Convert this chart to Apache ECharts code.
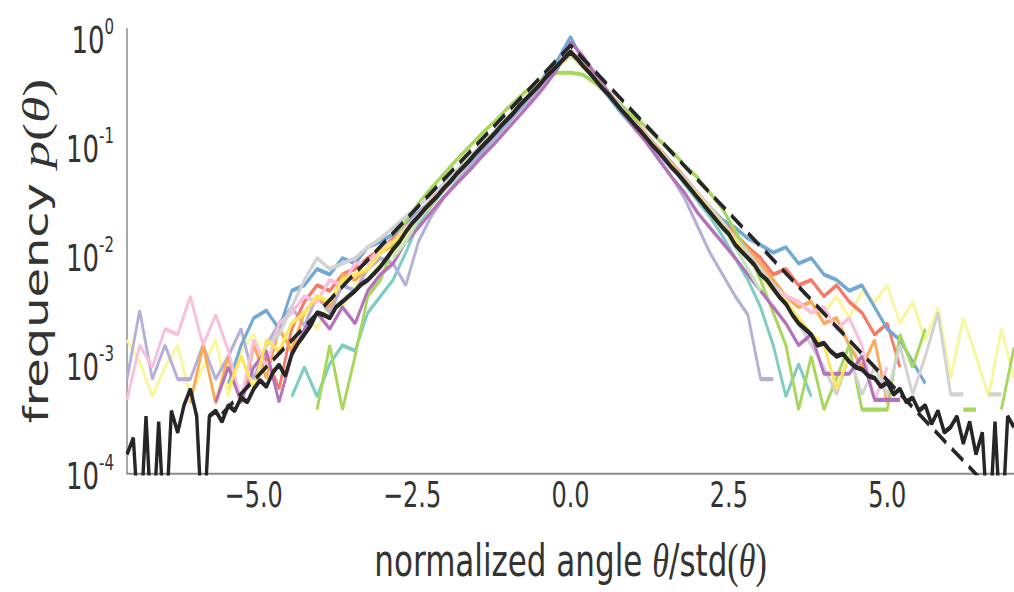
<!DOCTYPE html>
<html><head><meta charset="utf-8">
<script src="https://cdn.jsdelivr.net/npm/echarts@6.0.0/dist/echarts.min.js"></script>
<style>
html,body{margin:0;padding:0;background:#fff;}
#wrap{width:1014px;height:592px;overflow:hidden;position:relative;}
#chart{position:absolute;left:0;top:0;width:1014px;height:408px;transform:scaleY(1.451);transform-origin:0 0;}
</style></head><body><div id="wrap"><div id="chart"></div></div>
<script>
const N = null;
// bin centres of the pooled (black) histogram, step 0.1
const X_FINE = [-7.0,-6.9,-6.8,-6.7,-6.6,-6.5,-6.4,-6.3,-6.2,-6.1,
-6.0,-5.9,-5.8,-5.7,-5.6,-5.5,-5.4,-5.3,-5.2,-5.1,
-5.0,-4.9,-4.8,-4.7,-4.6,-4.5,-4.4,-4.3,-4.2,-4.1,
-4.0,-3.9,-3.8,-3.7,-3.6,-3.5,-3.4,-3.3,-3.2,-3.1,
-3.0,-2.9,-2.8,-2.7,-2.6,-2.5,-2.4,-2.3,-2.2,-2.1,
-2.0,-1.9,-1.8,-1.7,-1.6,-1.5,-1.4,-1.3,-1.2,-1.1,
-1.0,-0.9,-0.8,-0.7,-0.6,-0.5,-0.4,-0.3,-0.2,-0.1,
0.0,0.1,0.2,0.3,0.4,0.5,0.6,0.7,0.8,0.9,
1.0,1.1,1.2,1.3,1.4,1.5,1.6,1.7,1.8,1.9,
2.0,2.1,2.2,2.3,2.4,2.5,2.6,2.7,2.8,2.9,
3.0,3.1,3.2,3.3,3.4,3.5,3.6,3.7,3.8,3.9,
4.0,4.1,4.2,4.3,4.4,4.5,4.6,4.7,4.8,4.9,
5.0,5.1,5.2,5.3,5.4,5.5,5.6,5.7,5.8,5.9,
6.0,6.1,6.2,6.3,6.4,6.5,6.6,6.7,6.8,6.9,
7.0];
// bin centres of the individual histograms, step 0.2
const X_COARSE = [-7.0,-6.8,-6.6,-6.4,-6.2,-6.0,-5.8,-5.6,-5.4,-5.2,
-5.0,-4.8,-4.6,-4.4,-4.2,-4.0,-3.8,-3.6,-3.4,-3.2,
-3.0,-2.8,-2.6,-2.4,-2.2,-2.0,-1.8,-1.6,-1.4,-1.2,
-1.0,-0.8,-0.6,-0.4,-0.2,0.0,0.2,0.4,0.6,0.8,
1.0,1.2,1.4,1.6,1.8,2.0,2.2,2.4,2.6,2.8,
3.0,3.2,3.4,3.6,3.8,4.0,4.2,4.4,4.6,4.8,
5.0,5.2,5.4,5.6,5.8,6.0,6.2,6.4,6.6,6.8,
7.0];

const POOLED = [
0.126e-3,0.178e-3,0.2e-4,0.282e-3,0.2e-4,0.251e-3,0.2e-4,0.316e-3,0.2e-3,0.355e-3,
0.501e-3,0.282e-3,0.2e-4,0.282e-3,0.316e-3,0.251e-3,0.355e-3,0.316e-3,0.417e-3,0.380e-3,
0.501e-3,0.603e-3,0.525e-3,0.708e-3,0.832e-3,0.661e-3,0.105e-2,0.132e-2,0.158e-2,0.191e-2,
0.251e-2,0.240e-2,0.224e-2,0.282e-2,0.316e-2,0.355e-2,0.398e-2,0.457e-2,0.501e-2,0.575e-2,
0.661e-2,0.794e-2,0.955e-2,0.112e-1,0.138e-1,0.166e-1,0.191e-1,0.224e-1,0.257e-1,0.295e-1,
0.347e-1,0.398e-1,0.468e-1,0.537e-1,0.617e-1,0.724e-1,0.832e-1,0.955e-1,0.110,0.129,
0.148,0.170,0.200,0.229,0.263,0.302,0.355,0.407,0.468,0.537,
0.617,0.537,0.457,0.398,0.339,0.288,0.251,0.214,0.182,0.158,
0.135,0.117,0.100,0.0851,0.0741,0.0631,0.0537,0.0468,0.0398,0.0339,
0.0288,0.0245,0.0209,0.0178,0.0151,0.0132,0.0105,0.00912,0.00794,0.00692,
0.00562,0.00501,0.00417,0.00347,0.00302,0.0024,0.002,0.00178,0.00158,0.00126,
0.00132,0.00112,0.001,0.00105,0.000891,0.000794,0.000759,0.000661,0.000631,0.000525,
0.000575,0.000447,0.000501,0.00038,0.000417,0.000316,0.000355,0.00024,0.000316,0.0002,
0.000224,0.000282,0.000158,0.000251,0.000126,0.0002,0.00002,0.000251,0.00002,0.000282,
0.000224];

const LAPLACE_X = [-5.5, 0, 7];
const LAPLACE = [0.296e-3, 0.707, 0.355e-4];

const TEAL = [
N,N,N,N,N, N,N,N,N,N,
N,N,N,0.427e-3,0.794e-3,
0.427e-3,0.851e-3,0.126e-2,0.112e-2,0.251e-2,
0.355e-2,0.501e-2,0.891e-2,0.166e-1,0.240e-1,
0.331e-1,0.447e-1,0.603e-1,0.794e-1,0.107,
0.145,0.195,0.251,0.347,0.457,
0.603,0.468,0.339,0.251,0.186,
0.135,0.1,0.724e-1,0.537e-1,0.380e-1,
0.269e-1,0.191e-1,0.126e-1,0.794e-2,0.501e-2,
0.282e-2,0.126e-2,0.427e-3,0.851e-3,0.427e-3,
N,N,N,N,N, N,N,N,N,N, N,N,N,N,N, N];
const PALEYELLOW = [
0.141e-2,0.891e-3,0.427e-3,0.794e-3,0.126e-2,
0.427e-3,0.794e-3,0.141e-2,0.427e-3,0.112e-2,
0.158e-2,0.794e-3,0.178e-2,0.126e-2,0.251e-2,
0.178e-2,0.316e-2,0.282e-2,0.447e-2,0.501e-2,
0.708e-2,0.891e-2,0.126e-1,0.182e-1,0.251e-1,
0.339e-1,0.468e-1,0.603e-1,0.832e-1,0.107,
0.145,0.2,0.257,0.355,0.457,
0.562,0.447,0.331,0.251,0.182,
0.138,0.102,0.741e-1,0.550e-1,0.417e-1,
0.302e-1,0.219e-1,0.158e-1,0.112e-1,0.832e-2,
0.631e-2,0.501e-2,0.355e-2,0.316e-2,0.251e-2,
0.251e-2,0.355e-2,0.224e-2,0.398e-2,0.316e-2,
0.447e-2,0.2e-2,0.316e-2,0.141e-2,0.282e-2,
0.631e-3,0.224e-2,0.1e-2,0.427e-3,0.178e-2,
0.631e-3];
const LAVENDER = [
0.617e-3,0.263e-2,0.617e-3,0.126e-2,0.617e-3,
0.617e-3,0.126e-2,0.617e-3,0.1e-2,0.178e-2,
0.617e-3,0.126e-2,0.2e-2,0.282e-2,0.191e-2,
0.355e-2,0.251e-2,0.447e-2,0.398e-2,0.631e-2,
0.794e-2,0.708e-2,0.447e-2,0.112e-1,0.191e-1,
0.282e-1,0.398e-1,0.537e-1,0.741e-1,0.1,
0.135,0.182,0.240,0.331,0.447,
0.631,0.468,0.347,0.251,0.178,
0.126,0.912e-1,0.631e-1,0.437e-1,0.282e-1,
0.158e-1,0.891e-2,0.562e-2,0.355e-2,0.240e-2,
0.617e-3,0.617e-3,N,N,N,
N,N,N,N,N, N,N,N,N,N, N,N,N,N,N, N];
const SALMON = [
N,N,N,N,N, N,N,N,N,N,
0.501e-3,0.1e-2,0.501e-3,0.178e-2,0.316e-2,
0.447e-2,0.398e-2,0.562e-2,0.631e-2,0.794e-2,
0.955e-2,0.120e-1,0.151e-1,0.2e-1,0.269e-1,
0.355e-1,0.479e-1,0.631e-1,0.851e-1,0.112,
0.151,0.2,0.269,0.355,0.479,
0.631,0.479,0.355,0.263,0.195,
0.145,0.107,0.794e-1,0.589e-1,0.437e-1,
0.316e-1,0.234e-1,0.174e-1,0.132e-1,0.1e-1,
0.794e-2,0.562e-2,0.631e-2,0.447e-2,0.501e-2,
0.355e-2,0.447e-2,0.316e-2,0.251e-2,0.158e-2,
0.2e-2,0.794e-3,N,N,N,
N,N,N,N,N, N];
const BLUE = [
N,N,N,N,N,
N,N,N,0.562e-3,0.126e-2,
0.224e-2,0.263e-2,0.178e-2,0.398e-2,0.447e-2,
0.631e-2,0.562e-2,0.794e-2,0.708e-2,0.1e-1,
0.112e-1,0.132e-1,0.166e-1,0.209e-1,0.263e-1,
0.339e-1,0.457e-1,0.603e-1,0.794e-1,0.107,
0.141,0.191,0.263,0.380,0.525,
0.851,0.501,0.331,0.240,0.170,
0.126,0.955e-1,0.708e-1,0.525e-1,0.398e-1,
0.302e-1,0.229e-1,0.178e-1,0.151e-1,0.120e-1,
0.105e-1,0.891e-2,0.1e-1,0.708e-2,0.794e-2,
0.562e-2,0.501e-2,0.398e-2,0.447e-2,0.282e-2,
0.178e-2,0.141e-2,0.891e-3,0.562e-3,N,
N,N,N,N,N, N];
const ORANGE = [
N,N,N,N,N,
0.372e-3,0.126e-2,0.372e-3,0.1e-2,0.372e-3,
0.126e-2,0.631e-3,0.178e-2,0.112e-2,0.251e-2,
0.355e-2,0.282e-2,0.562e-2,0.501e-2,0.631e-2,
0.891e-2,0.105e-1,0.141e-1,0.191e-1,0.251e-1,
0.339e-1,0.468e-1,0.631e-1,0.832e-1,0.112,
0.151,0.2,0.269,0.363,0.468,
0.575,0.468,0.347,0.257,0.191,
0.141,0.105,0.759e-1,0.562e-1,0.417e-1,
0.316e-1,0.229e-1,0.166e-1,0.126e-1,0.955e-2,
0.708e-2,0.501e-2,0.355e-2,0.282e-2,0.316e-2,
0.2e-2,0.224e-2,0.126e-2,0.794e-3,0.141e-2,
0.372e-3,N,N,N,N,
N,N,N,N,N, N];
const GREEN = [
N,N,N,N,N, N,N,N,N,N, N,N,N,N,N,
0.324e-3,0.126e-2,0.324e-3,0.1e-2,0.355e-2,
0.501e-2,0.1e-1,0.174e-1,0.251e-1,0.347e-1,
0.468e-1,0.631e-1,0.832e-1,0.110,0.141,
0.186,0.240,0.302,0.363,0.398,
0.398,0.380,0.316,0.251,0.2,
0.158,0.126,0.955e-1,0.759e-1,0.562e-1,
0.437e-1,0.316e-1,0.224e-1,0.141e-1,0.891e-2,
0.501e-2,0.251e-2,0.126e-2,0.324e-3,0.1e-2,
0.324e-3,0.631e-3,0.126e-2,0.324e-3,0.324e-3,
0.324e-3,0.158e-2,0.794e-3,0.178e-2,N,
N,0.324e-3,0.324e-3,N,0.324e-3,
0.120e-2];
const PINK = [
0.398e-3,0.126e-2,0.794e-3,0.178e-2,0.158e-2,
0.355e-2,0.126e-2,0.240e-2,0.112e-2,0.398e-3,
0.141e-2,0.794e-3,0.2e-2,0.251e-2,0.355e-2,
0.316e-2,0.501e-2,0.447e-2,0.708e-2,0.708e-2,
0.1e-1,0.112e-1,0.151e-1,0.2e-1,0.263e-1,
0.355e-1,0.468e-1,0.631e-1,0.832e-1,0.112,
0.148,0.2,0.269,0.355,0.468,
0.589,0.457,0.339,0.251,0.186,
0.138,0.102,0.759e-1,0.562e-1,0.417e-1,
0.302e-1,0.219e-1,0.158e-1,0.112e-1,0.794e-2,
0.562e-2,0.447e-2,0.355e-2,0.316e-2,0.251e-2,
0.282e-2,0.178e-2,0.224e-2,0.126e-2,0.398e-3,
0.794e-3,N,N,N,N,
N,N,N,N,N, N];
const GREY = [
N,N,N,N,N, N,N,N,N,N,
0.501e-3,0.126e-2,0.158e-2,0.282e-2,0.501e-2,
0.794e-2,0.631e-2,0.708e-2,0.794e-2,0.1e-1,
0.120e-1,0.151e-1,0.191e-1,0.240e-1,0.302e-1,
0.380e-1,0.501e-1,0.661e-1,0.871e-1,0.115,
0.151,0.204,0.269,0.355,0.468,
0.603,0.468,0.347,0.257,0.191,
0.141,0.105,0.776e-1,0.575e-1,0.427e-1,
0.316e-1,0.234e-1,0.170e-1,0.120e-1,0.891e-2,
0.631e-2,0.447e-2,0.316e-2,0.2e-2,0.126e-2,
0.794e-3,0.447e-3,0.1e-2,0.447e-3,0.794e-3,
0.447e-3,0.126e-2,0.447e-3,0.1e-2,0.251e-2,
0.447e-3,0.447e-3,N,0.447e-3,0.447e-3,
N];
const PURPLE = [
N,N,N,N,N,
N,N,0.380e-3,0.794e-3,0.380e-3,
0.794e-3,0.112e-2,0.380e-3,0.1e-2,0.178e-2,
0.251e-2,0.178e-2,0.282e-2,0.2e-2,0.398e-2,
0.562e-2,0.708e-2,0.112e-1,0.151e-1,0.209e-1,
0.288e-1,0.380e-1,0.501e-1,0.676e-1,0.891e-1,
0.120,0.162,0.219,0.302,0.437,
0.759,0.562,0.380,0.263,0.182,
0.126,0.912e-1,0.631e-1,0.437e-1,0.316e-1,
0.209e-1,0.151e-1,0.110e-1,0.794e-2,0.562e-2,
0.398e-2,0.282e-2,0.2e-2,0.126e-2,0.158e-2,
0.692e-3,0.692e-3,0.692e-3,0.1e-2,0.398e-3,
0.398e-3,0.398e-3,N,N,N,
N,N,N,N,N, N];
const MINT = [
N,N,N,N,N, N,N,N,N,N, N,N,N,N,N, N,N,N,N,N,
N,0.794e-2,0.112e-1,0.178e-1,0.251e-1,
0.347e-1,0.479e-1,0.631e-1,0.851e-1,0.112,
0.151,0.2,0.269,0.355,0.479,
0.575,0.457,0.339,0.251,0.186,
0.138,0.102,0.759e-1,0.550e-1,0.398e-1,
0.295e-1,0.214e-1,0.151e-1,0.1e-1,0.631e-2,
0.398e-2,N,N,N,N,
N,N,N,N,N, N,N,N,N,N, N,N,N,N,N, N];
const GOLD = [
N,N,N,N,N,
N,N,N,0.501e-3,0.1e-2,
0.501e-3,0.141e-2,0.112e-2,0.2e-2,0.251e-2,
0.355e-2,0.316e-2,0.501e-2,0.562e-2,0.631e-2,
0.891e-2,0.112e-1,0.141e-1,0.191e-1,0.251e-1,
0.347e-1,0.457e-1,0.617e-1,0.832e-1,0.110,
0.148,0.2,0.263,0.355,0.468,
0.589,0.468,0.347,0.251,0.186,
0.138,0.102,0.759e-1,0.562e-1,0.407e-1,
0.302e-1,0.219e-1,0.158e-1,0.115e-1,0.794e-2,
0.562e-2,0.398e-2,0.316e-2,0.224e-2,0.158e-2,
0.126e-2,0.501e-3,0.1e-2,N,N,
N,N,N,N,N, N,N,N,N,N, N];

const RUNS = [TEAL, PALEYELLOW, LAVENDER, SALMON, BLUE, ORANGE, GREEN, PINK, GREY, PURPLE, MINT, GOLD];
const RUN_COLORS = ['#7fcdc0','#f7f7a0','#b5b0d8','#f57a68','#72a9d4','#fca955','#a6d75b','#f8c0dc','#d2d2d2','#b572bb','#c2e6ba','#fde65c'];

const X_TICKS = [-5, -2.5, 0, 2.5, 5];
const X_TICK_LABELS = ['\u22125.0', '\u22122.5', '0.0', '2.5', '5.0'];
const Y_TICKS = [1e-4, 1e-3, 1e-2, 1e-1, 1];
const Y_TICK_EXP = ['-4', '-3', '-2', '-1', '0'];

const FONT = 'DejaVu Sans';
const MATH = 'Liberation Serif';

const pair = (xs, ys) => ys.map((v, i) => [xs[i], v]);

const series = RUNS.map((run, i) => ({
  type: 'line', data: pair(X_COARSE, run), showSymbol: false, symbol: 'none',
  lineStyle: { width: 2.8, color: RUN_COLORS[i] }, itemStyle: { color: RUN_COLORS[i] },
  connectNulls: false, silent: true, z: 2
}));
series.push({
  type: 'line', data: pair(LAPLACE_X, LAPLACE), showSymbol: false, symbol: 'none',
  lineStyle: { width: 3, color: '#262626', type: [14, 7] }, silent: true, z: 3
});
series.push({
  type: 'line', data: pair(X_FINE, POOLED), showSymbol: false, symbol: 'none',
  lineStyle: { width: 3.4, color: '#262626' }, silent: true, z: 4
});

const chart = echarts.init(document.getElementById('chart'), null, { renderer: 'svg', width: 1014, height: 408 });
chart.setOption({
  animation: false,
  backgroundColor: '#ffffff',
  grid: { left: 127, right: 0, top: 20, bottom: 78.6, containLabel: false },
  xAxis: {
    type: 'value', min: -7, max: 7,
    axisLine: { show: true, onZero: false, lineStyle: { color: '#8c8c8c', width: 1.4 } },
    axisTick: { show: false }, splitLine: { show: false },
    axisLabel: {
      customValues: X_TICKS,
      formatter: v => { const k = X_TICKS.indexOf(v); return k >= 0 ? X_TICK_LABELS[k] : ''; },
      fontFamily: FONT, fontSize: 24, color: '#333', margin: 3
    },
    name: 'normalized angle {i|\u03b8}/std{r|(}{i|\u03b8}{r|)}',
    nameLocation: 'middle', nameGap: 43,
    nameTextStyle: {
      fontFamily: FONT, fontSize: 31, color: '#333',
      rich: {
        i: { fontFamily: MATH, fontStyle: 'italic', fontSize: 34, color: '#333' },
        r: { fontFamily: MATH, fontSize: 34, color: '#333' }
      }
    }
  },
  yAxis: {
    type: 'log', logBase: 10, min: 8.5e-5, max: 1,
    axisLine: { show: true, onZero: false, lineStyle: { color: '#8c8c8c', width: 1.5 } },
    axisTick: { show: false }, splitLine: { show: false }, minorTick: { show: false },
    axisLabel: {
      margin: 13, padding: [15, 0, 0, 0],
      formatter: v => {
        let k = -1;
        Y_TICKS.forEach((t, j) => { if (Math.abs(Math.log10(v) - Math.log10(t)) < 1e-6) k = j; });
        return k >= 0 ? '{b|10}{s|' + Y_TICK_EXP[k] + '}' : '';
      },
      rich: {
        b: { fontFamily: FONT, fontSize: 26, color: '#333', lineHeight: 34 },
        s: { fontFamily: FONT, fontSize: 15, color: '#333', verticalAlign: 'top' }
      }
    },
    name: 'frequency {m|p}{r|(}{m|\u03b8}{r|)}',
    nameLocation: 'middle', nameGap: 70, nameRotate: 90,
    nameTextStyle: {
      fontFamily: FONT, fontSize: 33, color: '#333',
      rich: {
        m: { fontFamily: MATH, fontStyle: 'italic', fontSize: 37, color: '#333' },
        r: { fontFamily: MATH, fontSize: 37, color: '#333' }
      }
    }
  },
  series: series
});
</script></body></html>
